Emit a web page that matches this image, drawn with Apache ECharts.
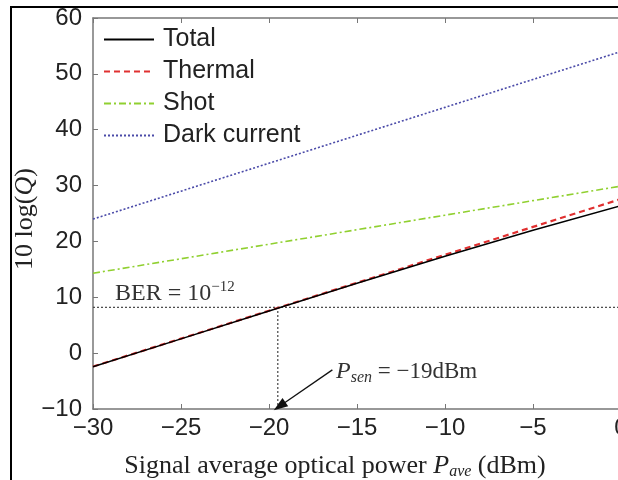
<!DOCTYPE html>
<html><head><meta charset="utf-8">
<script src="https://cdn.jsdelivr.net/npm/echarts@6/dist/echarts.min.js"></script>
<style>html,body{margin:0;padding:0;background:#fff}#c{width:618px;height:480px}</style>
</head><body><div id="c"></div>
<script>
var xs = [-30, -25, -20, -15, -10, -5, 0];
var total = [-2.45, 2.55, 7.55, 12.5, 17.35, 22.0, 26.4];
var thermal = [-2.4, 2.6, 7.6, 12.6, 17.6, 22.6, 27.6];
var shot = [14.3, 16.9, 19.5, 22.1, 24.7, 27.3, 29.9];
var dark = [24, 29, 34, 39, 44, 49, 54];
var berLevel = 8.2;
var pSen = -19.5;
var xTicks = {min: -30, max: 0, interval: 5};
var yTicks = {min: -10, max: 60, interval: 10};
var arrowFrom = [-16.4, -3.0];
var arrowTo = [-19.4, -9.5];

function pts(ys) { return xs.map(function (x, i) { return [x, ys[i]]; }); }
var minus = function (v) { return String(v).replace('-', '\u2212'); };
var serif = 'Liberation Serif';
var sans = 'Liberation Sans';
var axisCol = '#777';

var chart = echarts.init(document.getElementById('c'));
chart.setOption({
  animation: false,
  grid: {left: 93, top: 18, width: 528, height: 391, outerBoundsMode: 'none', containLabel: false},
  legend: {
    orient: 'vertical', left: 103, top: 27, padding: 0, itemWidth: 50, itemHeight: 14, itemGap: 7,
    itemStyle: {opacity: 0},
    data: ['Total', 'Thermal', 'Shot', 'Dark current'],
    textStyle: {fontFamily: sans, fontSize: 25, color: '#222', lineHeight: 25, padding: [0, 0, 0, 4]}
  },
  xAxis: [{
    type: 'value', min: xTicks.min, max: xTicks.max, interval: xTicks.interval,
    axisLine: {onZero: false, lineStyle: {color: axisCol, width: 1.5}},
    axisTick: {inside: true, length: 5, lineStyle: {color: axisCol}},
    axisLabel: {formatter: minus, fontFamily: sans, fontSize: 24, color: '#222', margin: 7},
    splitLine: {show: false}
  }, {
    type: 'value', position: 'top', min: xTicks.min, max: xTicks.max, interval: xTicks.interval,
    axisLine: {onZero: false, lineStyle: {color: axisCol, width: 1.5}},
    axisTick: {inside: true, length: 5, lineStyle: {color: axisCol}},
    axisLabel: {show: false}, splitLine: {show: false}
  }],
  yAxis: [{
    type: 'value', min: yTicks.min, max: yTicks.max, interval: yTicks.interval,
    axisLine: {show: true, onZero: false, lineStyle: {color: axisCol, width: 1.5}},
    axisTick: {show: true, inside: true, length: 5, lineStyle: {color: axisCol}},
    axisLabel: {formatter: minus, fontFamily: sans, fontSize: 24, color: '#222', margin: 11},
    splitLine: {show: false}
  }],
  series: [
    {name: 'Total', type: 'line', data: pts(total), symbol: 'none', z: 5,
     lineStyle: {color: '#000', width: 1.5}, itemStyle: {color: '#000'}},
    {name: 'Thermal', type: 'line', data: pts(thermal), symbol: 'none', z: 4,
     lineStyle: {color: '#e03030', width: 2.2, type: [6, 4]}, itemStyle: {color: '#e03030'}},
    {name: 'Shot', type: 'line', data: pts(shot), symbol: 'none',
     lineStyle: {color: '#90d030', width: 1.6, type: [7, 3, 2, 3]}, itemStyle: {color: '#90d030'}},
    {name: 'Dark current', type: 'line', data: pts(dark), symbol: 'none',
     lineStyle: {color: '#4a4aa8', width: 1.6, type: [2, 2]}, itemStyle: {color: '#4a4aa8'}},
    {name: 'ber', type: 'line', data: [[xTicks.min, berLevel], [xTicks.max, berLevel]], symbol: 'none',
     lineStyle: {color: '#444', width: 1.2, type: [2, 2]}, z: 1},
    {name: 'sen', type: 'line', data: [[pSen, yTicks.min], [pSen, berLevel]], symbol: 'none',
     lineStyle: {color: '#444', width: 1.2, type: [2, 2]}, z: 1,
     markLine: {silent: true, symbol: ['none', 'triangle'], symbolSize: [10, 14], label: {show: false},
       lineStyle: {color: '#111', width: 1.3, type: 'solid'},
       data: [[{coord: arrowFrom}, {coord: arrowTo}]]}}
  ],
  graphic: [
    {type: 'polyline', shape: {points: [[11, 480], [11, 7], [618, 7]]}, style: {stroke: '#000', lineWidth: 2, fill: null}, z: 100},
    {type: 'text', x: 335, y: 466, style: {
      text: 'Signal average optical power {i|P}{sub|ave} (dBm)', align: 'center', verticalAlign: 'middle',
      font: '26px "Liberation Serif"', fill: '#222',
      rich: {i: {fontFamily: serif, fontSize: 26, fontStyle: 'italic', fill: '#222'},
             sub: {fontFamily: serif, fontSize: 16, fontStyle: 'italic', fill: '#222', padding: [11, 0, 0, 0]}}
    }},
    {type: 'text', x: 25, y: 219, rotation: Math.PI / 2, style: {
      text: '10 log({i|Q})', align: 'center', verticalAlign: 'middle',
      font: '26px "Liberation Serif"', fill: '#222',
      rich: {i: {fontFamily: serif, fontSize: 26, fontStyle: 'italic', fill: '#222'}}
    }},
    {type: 'text', x: 115, y: 294, style: {
      text: 'BER = 10{sup|\u221212}', align: 'left', verticalAlign: 'middle',
      font: '24px "Liberation Serif"', fill: '#333',
      rich: {sup: {fontFamily: serif, fontSize: 15, fill: '#333', padding: [0, 0, 13, 0]}}
    }},
    {type: 'text', x: 336, y: 372, style: {
      text: '{i|P}{sub|sen} = \u221219dBm', align: 'left', verticalAlign: 'middle',
      font: '23px "Liberation Serif"', fill: '#333',
      rich: {i: {fontFamily: serif, fontSize: 24, fontStyle: 'italic', fill: '#333'},
             sub: {fontFamily: serif, fontSize: 16, fontStyle: 'italic', fill: '#333', padding: [11, 0, 0, 0]}}
    }}
  ]
});
</script></body></html>
